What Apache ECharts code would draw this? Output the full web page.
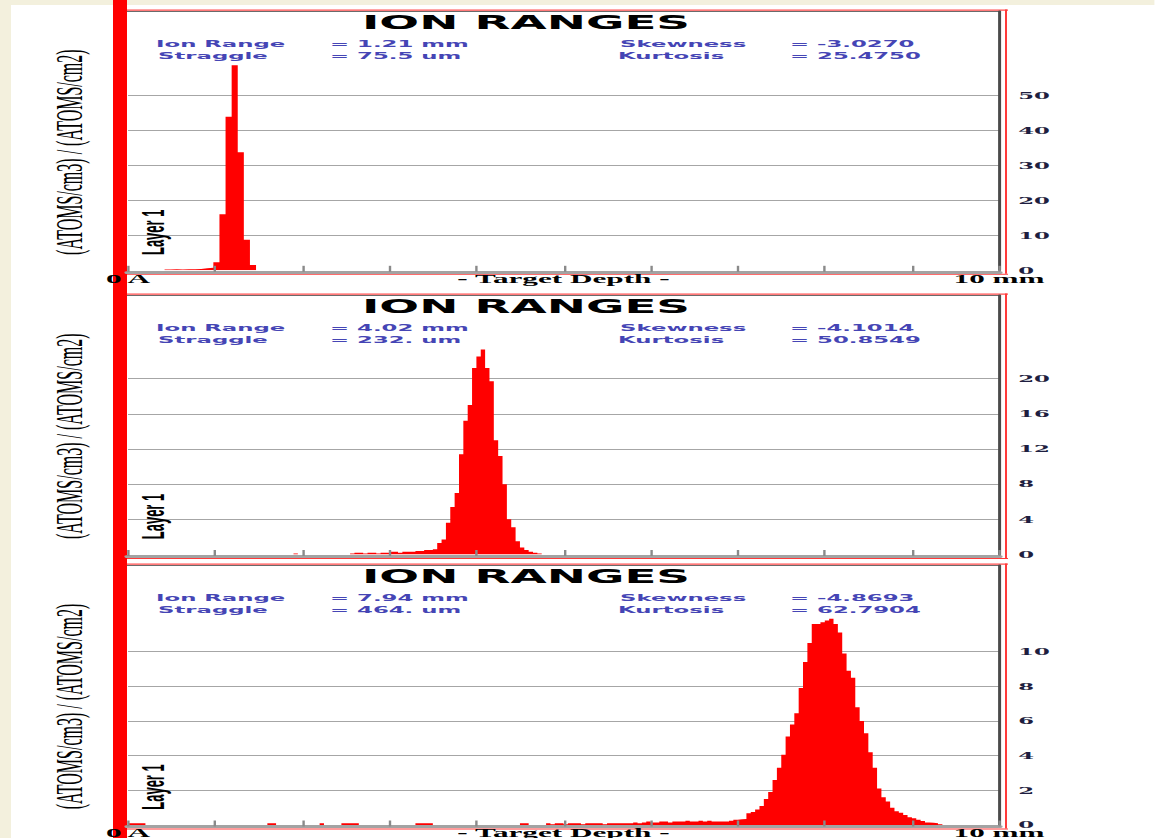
<!DOCTYPE html>
<html>
<head>
<meta charset="utf-8">
<script src="https://cdn.jsdelivr.net/npm/echarts@6/dist/echarts.min.js"></script>
<style>
  html, body { margin: 0; padding: 0; background: #ffffff; overflow: hidden; }
  /* The plot is laid out narrow and stretched sideways, like the wide SRIM window it imitates */
  #chart { position: absolute; left: 0; top: 0; width: 481.25px; height: 838px;
           transform: scaleX(2.4); transform-origin: 0 0; }
</style>
</head>
<body>
<div id="chart"></div>
<script>
// ---------------- data ----------------
// Depth axis (mm)
const depthMin = 0;
const depthMax = 10;
const depthStep = 1;

// Panel statistics
const ionRange  = ['1.21 mm', '4.02 mm', '7.94 mm'];
const straggle  = ['75.5 um', '232. um', '464. um'];
const skewness  = ['-3.0270', '-4.1014', '-4.8693'];
const kurtosis  = ['25.4750', '50.8549', '62.7904'];

// Y tick labels of each panel
const yTicks1 = [0, 10, 20, 30, 40, 50];
const yTicks2 = [0, 4, 8, 12, 16, 20];
const yTicks3 = [0, 2, 4, 6, 8, 10];
const yMax    = [74.1, 29.5, 15.0];

// Histogram bins: first bin depth (mm), bin width (mm), heights
const binStart1 = 0.42, binWidth1 = 0.07;
const counts1 = [0.2, 0.3, 0.2, 0.3, 0.3, 0.4, 0.6, 0.7, 2.3, 16.0, 43.9, 58.6, 33.7, 8.7, 1.5];

const binStart2 = 1.90, binWidth2 = 0.05;
const counts2 = [
  0.1, 0, 0, 0, 0, 0, 0, 0, 0, 0, 0, 0, 0,
  0.1, 0.2, 0.2, 0.1, 0.2, 0.2, 0.1, 0.2, 0.2,
  0.3, 0.3, 0.2, 0.3, 0.3, 0.3, 0.4, 0.4, 0.5, 0.5, 0.6,
  1.3, 1.7, 3.6, 5.4, 7.0, 11.4, 15.2, 17.0, 21.2, 22.5, 23.3, 21.2, 19.7,
  13.0, 11.2, 8.0, 4.0, 3.1, 1.5, 0.8, 0.5, 0.3, 0.2, 0.1
];

const binStart3 = 0.0, binWidth3 = 0.05;
const counts3 = [
  0.1, 0.1, 0.1, 0.1,
  0, 0, 0, 0, 0, 0, 0, 0, 0, 0, 0, 0, 0, 0, 0, 0, 0, 0, 0, 0, 0, 0, 0, 0, 0, 0, 0, 0,
  0.1, 0.1,
  0, 0, 0, 0, 0, 0, 0, 0, 0, 0,
  0.1,
  0, 0, 0, 0,
  0.1, 0.1, 0.1, 0.1,
  0, 0, 0, 0, 0, 0, 0, 0, 0, 0, 0, 0, 0,
  0.1, 0.1, 0.1, 0.1,
  0, 0, 0, 0, 0, 0, 0, 0, 0, 0, 0, 0, 0, 0, 0, 0, 0, 0, 0, 0,
  0.1, 0.1,
  0, 0, 0, 0,
  0.1, 0.05, 0.1, 0.1, 0.05, 0.1, 0.1, 0.1, 0.05, 0.1, 0.1, 0.1, 0.1, 0.05, 0.1, 0.1,
  0.1, 0.1, 0.1, 0.1, 0.15, 0.1,
  0.15, 0.2, 0.15, 0.15, 0.2, 0.2, 0.15, 0.2, 0.2, 0.2, 0.25, 0.2, 0.2, 0.25,
  0.2, 0.25, 0.2, 0.2,
  0.2, 0.2, 0.25, 0.3, 0.33, 0.35, 0.68, 0.75, 0.9, 1.1, 1.5, 1.9, 2.6, 3.3, 4.05,
  5.1, 5.8, 6.45, 7.9, 9.4, 10.5, 11.6, 11.6, 11.7, 11.8, 11.9, 11.6, 11.1, 9.9,
  8.9, 8.5, 6.8, 6.0, 5.3, 4.2, 3.3, 2.1, 1.6, 1.35, 1.0, 0.8, 0.7, 0.58, 0.45,
  0.39, 0.3, 0.23, 0.15, 0.13, 0.1, 0.05
];

// ---------------- layout ----------------
const SX = 2.4;                 // horizontal stretch of the page
const W0 = 1155 / SX;           // unstretched drawing width
const H0 = 838;
const X = px => px / SX;        // page x -> drawing x

const panelTop  = [10, 294, 564];
const baseLine  = [270.3, 554.5, 825];
const showDepth = [true, false, true];
const tickSets  = [yTicks1, yTicks2, yTicks3];
const bins = [
  { start: binStart1, width: binWidth1, counts: counts1 },
  { start: binStart2, width: binWidth2, counts: counts2 },
  { start: binStart3, width: binWidth3, counts: counts3 }
];

const RED = '#ff0000';
const CREAM = '#f3f0dd';
const STAT_BLUE = '#4545b5';

function histPoints(b) {
  const pts = b.counts.map((c, k) => [+(b.start + k * b.width).toFixed(4), c]);
  pts.push([+(b.start + b.counts.length * b.width).toFixed(4), 0]);
  return pts;
}

const grids = [], xAxes = [], yAxes = [], series = [], graphics = [];

// page frame: cream window edge and the red bar down the left side
graphics.push({ type: 'rect', z: 0, shape: { x: 0, y: 0, width: W0, height: 5 }, style: { fill: CREAM } });
graphics.push({ type: 'rect', z: 0, shape: { x: 0, y: 0, width: X(11), height: H0 }, style: { fill: CREAM } });

for (let i = 0; i < 3; i++) {
  const top = panelTop[i], base = baseLine[i];
  const plotTop = top + 1;
  const ticks = tickSets[i];

  grids.push({ left: X(128), width: X(871), top: plotTop, height: base - plotTop, outerBoundsMode: 'none' });

  xAxes.push({
    gridIndex: i, type: 'value', min: depthMin, max: depthMax, interval: depthStep,
    z: 5, offset: 1.5,
    axisLine: { show: true, onZero: false, lineStyle: { color: '#a3a3a3', width: 3 } },
    axisTick: { show: true, inside: true, length: 6, lineStyle: { color: '#8a8a8a', width: 1 } },
    splitLine: { show: false },
    axisLabel: {
      show: showDepth[i], margin: 0,
      formatter: v => (v === depthMin ? '0 A' : (v === depthMax ? '10 mm' : '')),
      color: '#000', fontFamily: 'Liberation Serif', fontWeight: 'bold', fontSize: 13
    },
    name: showDepth[i] ? '- Target Depth -' : '',
    nameLocation: 'middle', nameGap: 0, nameMoveOverlap: false,
    nameTextStyle: { color: '#000', fontFamily: 'Liberation Serif', fontWeight: 'bold', fontSize: 13, verticalAlign: 'top' }
  });

  yAxes.push({
    gridIndex: i, type: 'value', position: 'right', min: 0, max: yMax[i], interval: ticks[1],
    z: 5,
    axisLine: { show: true, onZero: false, lineStyle: { color: '#4a4a4a', width: 1.25 } },
    axisTick: { show: false },
    splitLine: { show: false },
    axisLabel: {
      margin: 8, showMaxLabel: false, padding: [0, 0, 5, 0],
      formatter: v => (ticks.indexOf(v) >= 0 ? String(v) : ''),
      color: '#1e1e40', fontFamily: 'DejaVu Serif', fontWeight: 'bold', fontSize: 9.5
    }
  });

  // horizontal grid lines at the labelled ticks
  series.push({
    type: 'line', xAxisIndex: i, yAxisIndex: i, data: [], silent: true, z: 1,
    markLine: {
      z: 1, silent: true, symbol: ['none', 'none'], label: { show: false },
      lineStyle: { color: '#a6a6a6', width: 1, type: 'solid' },
      emphasis: { disabled: true },
      data: ticks.filter(v => v > 0).map(v => ({ yAxis: v }))
    }
  });

  // range distribution histogram
  series.push({
    type: 'line', xAxisIndex: i, yAxisIndex: i, step: 'end', symbol: 'none',
    silent: true, z: 3,
    lineStyle: { width: 0, color: RED },
    areaStyle: { color: RED, opacity: 1 },
    data: histPoints(bins[i])
  });

  // panel border lines
  graphics.push({ type: 'rect', z: 1, shape: { x: X(127), y: top - 0.6, width: X(881), height: 1.4 }, style: { fill: '#ff4d4d' } });
  graphics.push({ type: 'rect', z: 1, shape: { x: X(127), y: top + 1, width: X(873), height: 0.8 }, style: { fill: '#3a3a3a' } });
  graphics.push({ type: 'rect', z: 1, shape: { x: X(1005), y: top - 0.6, width: X(2), height: base + 4 - top }, style: { fill: '#ff3b3b' } });
  graphics.push({ type: 'rect', z: 1, shape: { x: X(127), y: base + 3.4, width: X(881), height: 1 }, style: { fill: '#ff3b3b' } });

  // title and statistics
  graphics.push({ type: 'text', z: 10, x: X(526), y: top + 12.5,
    style: { text: 'ION RANGES', font: 'bold 19.5px "DejaVu Sans"', fill: '#000', align: 'center', verticalAlign: 'middle' } });
  const statFont = 'bold 9.5px "DejaVu Sans"';
  const rows = [
    [['Ion Range', 156], ['= ' + ionRange[i], 330], ['Skewness', 620], ['= ' + skewness[i], 790]],
    [['Straggle', 158], ['= ' + straggle[i], 330], ['Kurtosis', 618], ['= ' + kurtosis[i], 790]]
  ];
  rows.forEach((row, r) => {
    row.forEach(([txt, px]) => {
      graphics.push({ type: 'text', z: 10, x: X(px), y: top + 33.5 + r * 12,
        style: { text: txt, font: statFont, fill: STAT_BLUE, align: 'left', verticalAlign: 'middle' } });
    });
  });

  // vertical unit label and layer label
  graphics.push({ type: 'text', z: 10, x: X(69), y: (plotTop + base) / 2 + 11.5, rotation: Math.PI / 2,
    style: { text: '(ATOMS/cm3) / (ATOMS/cm2)', font: '16px "Liberation Serif"', fill: '#000', align: 'center', verticalAlign: 'middle' } });
  graphics.push({ type: 'text', z: 10, x: X(153), y: base - 38, rotation: Math.PI / 2,
    style: { text: 'Layer 1', font: 'bold 13px "Liberation Sans"', fill: '#000', align: 'center', verticalAlign: 'middle' } });
}

// red bar on the left edge of the window
graphics.push({ type: 'rect', z: 2, shape: { x: X(113), y: 0, width: X(14), height: H0 }, style: { fill: RED } });

const chart = echarts.init(document.getElementById('chart'), null, { renderer: 'svg', width: W0, height: H0 });
chart.setOption({
  animation: false,
  backgroundColor: '#ffffff',
  grid: grids,
  xAxis: xAxes,
  yAxis: yAxes,
  series: series,
  graphic: { elements: graphics }
});
</script>
</body>
</html>
